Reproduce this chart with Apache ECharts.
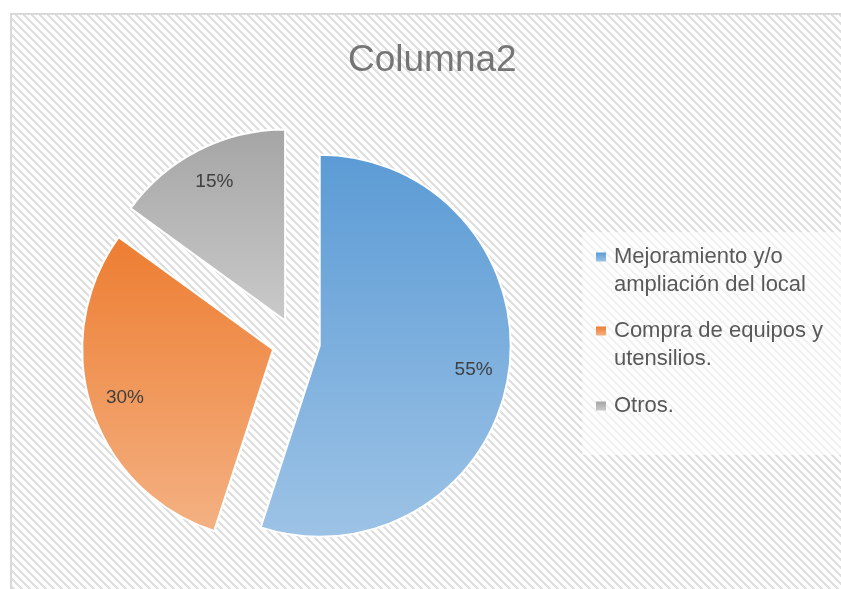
<!DOCTYPE html>
<html>
<head>
<meta charset="utf-8">
<title>Columna2</title>
<script src="https://cdn.jsdelivr.net/npm/echarts@6/dist/echarts.min.js"></script>
<style>
  html, body { margin: 0; padding: 0; background: #fff; }
  #chart { width: 841px; height: 589px; }
</style>
</head>
<body>
<div id="chart"></div>
<script>
const categories = ['Mejoramiento y/o ampliación del local', 'Compra de equipos y utensilios.', 'Otros.']
const legendLines = [['Mejoramiento y/o', 'ampliación del local'], ['Compra de equipos y', 'utensilios.'], ['Otros.']]
const shares = [55, 30, 15]

const topColors = ['#5b9bd5', '#ed7d31', '#a5a5a5']
const bottomColors = ['#9dc3e6', '#f4b183', '#cacaca']
const font = '"Liberation Sans", Arial, sans-serif'
const center = [296, 342]
const radius = 191

// excel style hatch: 8x8 tile with a 3px downward diagonal
const tile = document.createElement('canvas')
tile.width = 8
tile.height = 8
const ctx = tile.getContext('2d')
ctx.fillStyle = '#ffffff'
ctx.fillRect(0, 0, 8, 8)
ctx.fillStyle = '#dfdfdf'
for (let y = 0; y < 8; y++) {
  for (let k = 0; k < 3; k++) ctx.fillRect((y + k) % 8, y, 1, 1)
}

const chart = echarts.init(document.getElementById('chart'))

const pieData = shares.map((v, i) => ({
  name: categories[i],
  value: v,
  selected: true,
  itemStyle: {
    color: new echarts.graphic.LinearGradient(0, 0, 0, 1, [
      { offset: 0, color: topColors[i] },
      { offset: 1, color: bottomColors[i] },
    ]),
  },
}))

// legend icon sits in the middle of its text block, so two-line entries get
// an empty line on top to bring the icon level with the first line
const legendText = (name) => {
  const lines = legendLines[categories.indexOf(name)]
  return lines.length > 1 ? ['', ...lines].join('\n') : lines[0]
}

const option = {
  animation: false,
  graphic: [
    {
      type: 'rect',
      z: 0,
      silent: true,
      shape: { x: 11, y: 14, width: 900, height: 700 },
      style: { fill: { image: tile, repeat: 'repeat' }, stroke: '#d9d9d9', lineWidth: 2 },
    },
    {
      type: 'rect',
      z: 1,
      silent: true,
      shape: { x: 582, y: 232, width: 270, height: 223 },
      style: { fill: 'rgba(255,255,255,0.6)' },
    },
  ],
  title: {
    text: 'Columna2',
    left: 343,
    top: 37,
    textStyle: { fontFamily: font, fontSize: 37, fontWeight: 'normal', color: '#757575' },
  },
  legend: {
    orient: 'vertical',
    left: 596,
    top: 215,
    padding: 0,
    itemGap: -10,
    itemWidth: 10,
    itemHeight: 9,
    icon: 'rect',
    selectedMode: false,
    itemStyle: { borderWidth: 0 },
    formatter: legendText,
    textStyle: { fontFamily: font, fontSize: 22, lineHeight: 28, color: '#595959' },
    data: categories.map((name, i) => ({
      name,
      textStyle: {
        padding: legendLines[i].length > 1 ? [0, 0, 0, 3] : [29, 0, 29, 3],
        backgroundColor: 'rgba(0,0,0,0)',
      },
    })),
  },
  series: [
    {
      type: 'pie',
      center,
      radius,
      startAngle: 90,
      selectedMode: 'multiple',
      selectedOffset: 24,
      itemStyle: { borderColor: '#ffffff', borderWidth: 2 },
      label: { show: false },
      labelLine: { show: false },
      emphasis: { disabled: true },
      data: pieData,
    },
    {
      // transparent ring only used to place the labels further out
      type: 'pie',
      center,
      radius: [radius * 0.6, radius],
      startAngle: 90,
      selectedMode: 'multiple',
      selectedOffset: 24,
      silent: true,
      itemStyle: { color: 'rgba(0,0,0,0)', borderWidth: 0 },
      label: {
        show: true,
        position: 'inside',
        formatter: '{d}%',
        fontFamily: font,
        fontSize: 19,
        color: '#404040',
      },
      labelLine: { show: false },
      emphasis: { disabled: true },
      data: shares.map((v, i) => ({ name: categories[i], value: v, selected: true })),
    },
  ],
}

chart.setOption(option)

window.addEventListener('resize', () => {
  chart.resize()
})
</script>
</body>
</html>
